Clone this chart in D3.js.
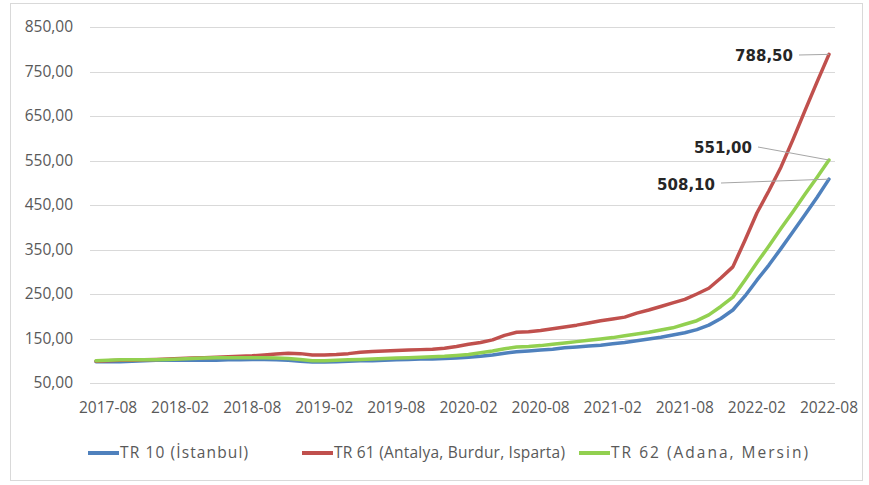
<!DOCTYPE html>
<html>
<head>
<meta charset="UTF-8">
<title>TR10 TR61 TR62</title>
<script src="https://d3js.org/d3.v7.min.js"></script>
<style>
  body { margin: 0; background: #fff; font-family: "Open Sans", sans-serif; }
  .tick-label { font-size: 15.5px; fill: #595959; }
  .grid { stroke: #d9d9d9; stroke-width: 1; }
  .legend-text { font-size: 15.5px; fill: #595959; }
  .note { font-family: "DejaVu Sans", sans-serif; font-weight: bold; font-size: 15px; fill: #262626; }
  .leader { stroke: #a6a6a6; stroke-width: 1; fill: none; }
</style>
</head>
<body>
<div id="chart"></div>
<script>
// months 2017-07 .. 2022-08
var months = [];
for (var yr = 2017; yr <= 2022; yr++) {
  for (var m = 1; m <= 12; m++) {
    if (yr == 2017 && m < 7) continue;
    if (yr == 2022 && m > 8) continue;
    months.push(yr + "-" + (m < 10 ? "0" + m : m));
  }
}
var xLabels = ["2017-08","2018-02","2018-08","2019-02","2019-08","2020-02","2020-08","2021-02","2021-08","2022-02","2022-08"];
var yTicks = [50, 150, 250, 350, 450, 550, 650, 750, 850];

var istanbul = [98, 98, 98, 99, 100, 101,
  101, 101, 101, 101, 101, 102,
  102, 103, 103, 102, 101, 99,
  97, 97, 98, 99, 100, 100,
  101, 102, 103, 104, 104, 105,
  106, 108, 110, 113, 117, 120,
  122, 124, 126, 129, 131, 133,
  135, 138, 141, 145, 149, 153,
  158, 163, 170, 180, 195, 214,
  245, 281, 315, 352, 390, 428,
  467, 508.1];
var antalya = [99, 100, 101, 101, 102, 103,
  104, 105, 106, 107, 108, 109,
  110, 111, 113, 115, 117, 116,
  113, 113, 114, 116, 119, 121,
  122, 123, 124, 125, 126, 128,
  132, 137, 141, 147, 157, 164,
  165, 168, 172, 176, 180, 185,
  190, 194, 198, 207, 214, 222,
  230, 238, 250, 263, 286, 311,
  370, 432, 482, 535, 597, 662,
  726, 788.5];
var adana = [100, 101, 102, 102, 102, 102,
  103, 104, 105, 106, 107, 107,
  107, 107, 107, 106, 105, 103,
  100, 100, 101, 102, 103, 104,
  105, 106, 107, 108, 109, 110,
  112, 114, 118, 122, 127, 131,
  132, 134, 137, 140, 143, 146,
  149, 152, 156, 160, 164, 169,
  174, 182, 190, 203, 222, 243,
  281, 320, 358, 397, 435, 474,
  512, 551];

var seriesNames = ["TR 10 (İstanbul)", "TR 61 (Antalya, Burdur, Isparta)", "TR 62 (Adana, Mersin)"];
var seriesColors = ["#4f81bd", "#c0504d", "#92d050"];
var seriesData = [istanbul, antalya, adana];
var lastLabels = ["508,10", "788,50", "551,00"];

var W = 869, H = 485;
var margin = {top: 27, right: 34, bottom: 102, left: 90};

var svg = d3.select("#chart").append("svg")
  .attr("width", W).attr("height", H);

// outer frame
svg.append("rect")
  .attr("x", 10.5).attr("y", 3.5)
  .attr("width", 852).attr("height", 477)
  .attr("fill", "none").attr("stroke", "#d9d9d9");

var x = d3.scaleBand().domain(months).range([margin.left, W - margin.right]);
var xc = function(d) { return x(d) + x.bandwidth() / 2; };
var y = d3.scaleLinear().domain([50, 850]).range([H - margin.bottom, margin.top]);

// gridlines + y labels
svg.append("g").selectAll("line").data(yTicks).enter().append("line")
  .attr("class", "grid")
  .attr("x1", margin.left).attr("x2", W - margin.right)
  .attr("y1", function(d) { return Math.round(y(d)) + 0.5; })
  .attr("y2", function(d) { return Math.round(y(d)) + 0.5; });

svg.append("g").selectAll("text").data(yTicks).enter().append("text")
  .attr("class", "tick-label")
  .attr("x", 73).attr("y", function(d) { return y(d); })
  .attr("dy", "0.35em")
  .attr("text-anchor", "end")
  .text(function(d) { return d3.format(".2f")(d).replace(".", ","); });

// x labels
svg.append("g").selectAll("text").data(xLabels).enter().append("text")
  .attr("class", "tick-label")
  .attr("x", function(d) { return xc(d); })
  .attr("y", 413)
  .attr("text-anchor", "middle")
  .text(function(d) { return d; });

// lines
var line = d3.line()
  .x(function(d, i) { return xc(months[i]); })
  .y(function(d) { return y(d); });

seriesData.forEach(function(s, k) {
  svg.append("path")
    .datum(s)
    .attr("fill", "none")
    .attr("stroke", seriesColors[k])
    .attr("stroke-width", 3.5)
    .attr("stroke-linejoin", "round")
    .attr("stroke-linecap", "round")
    .attr("d", line);
});

// end labels with leader lines
var lastMonth = months[months.length - 1];
var notes = [
  {s: 1, tx: 793, ty: 56, lx: 799, ly: 55},
  {s: 2, tx: 752, ty: 148, lx: 758, ly: 147},
  {s: 0, tx: 715, ty: 185, lx: 721, ly: 183}
];
notes.forEach(function(n) {
  var data = seriesData[n.s];
  var ex = xc(lastMonth), ey = y(data[data.length - 1]);
  svg.append("path").attr("class", "leader")
    .attr("d", "M" + n.lx + "," + n.ly + "L" + ex + "," + ey);
  svg.append("text").attr("class", "note")
    .attr("x", n.tx).attr("y", n.ty).attr("dy", "0.35em")
    .attr("text-anchor", "end")
    .text(lastLabels[n.s]);
});

// legend
var legendX = [88, 302, 579];
var legendW = [128, 231, 197];
var legend = svg.append("g");
seriesNames.forEach(function(name, k) {
  legend.append("line")
    .attr("x1", legendX[k]).attr("x2", legendX[k] + 31)
    .attr("y1", 453).attr("y2", 453)
    .attr("stroke", seriesColors[k]).attr("stroke-width", 4);
  legend.append("text")
    .attr("class", "legend-text")
    .attr("x", legendX[k] + 32).attr("y", 453).attr("dy", "0.35em")
    .attr("textLength", legendW[k])
    .attr("lengthAdjust", "spacing")
    .text(name);
});
</script>
</body>
</html>
